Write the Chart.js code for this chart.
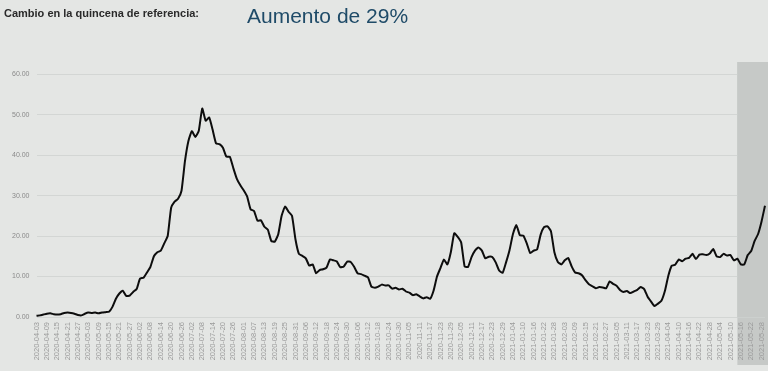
<!DOCTYPE html>
<html><head><meta charset="utf-8">
<script src="https://cdn.jsdelivr.net/npm/chart.js@4.4.0/dist/chart.umd.min.js"></script>
<style>
html,body{margin:0;padding:0;background:#e4e6e4;overflow:hidden}
#wrap{position:relative;width:768px;height:371px}
canvas{position:absolute;left:0;top:0}
.t{position:absolute;white-space:nowrap;font-family:"Liberation Sans",Arial,sans-serif}
#t1{left:4px;top:8px;font-size:11px;line-height:11px;font-weight:bold;color:#2a2a2a}
#t2{left:247px;top:5px;font-size:21px;line-height:21px;color:#1f4b68}
</style></head>
<body>
<div id="wrap">
<canvas id="c" width="768" height="371"></canvas>
<div class="t" id="t1">Cambio en la quincena de referencia:</div>
<div class="t" id="t2">Aumento de 29%</div>
</div>
<script>
// Daily series sampled every 2 days starting 2020-04-03
const startDate = '2020-04-03';
const stepDays = 2;
const tickEvery = 3; // one tick label every 6 days
const refStart = '2021-05-14';
const yTicks = [0, 10, 20, 30, 40, 50, 60];
const values = [
0.3,0.4,0.6,0.8,0.9,0.7,0.6,0.7,1.0,1.1,
1.0,0.8,0.5,0.4,0.8,1.1,1.0,1.1,0.9,1.1,
1.2,1.3,2.5,4.5,5.8,6.5,5.2,5.3,6.2,6.9,
9.5,9.7,11.0,12.4,15.0,16.0,16.4,18.2,20.0,27.0,
28.5,29.2,31.2,38.5,43.5,45.9,44.5,46.0,51.5,48.5,
49.3,46.3,42.9,42.7,41.8,39.6,39.6,36.8,34.2,32.6,
31.3,29.8,26.6,26.2,23.8,23.9,22.3,21.6,18.8,18.6,
20.4,25.0,27.3,26.0,25.0,19.2,15.6,15.1,14.5,12.7,
13.0,10.8,11.6,11.8,12.2,14.2,14.0,13.7,12.3,12.5,
13.7,13.6,12.4,10.8,10.6,10.2,9.8,7.5,7.2,7.5,
8.0,7.8,7.8,7.0,7.2,6.8,7.0,6.3,6.0,5.4,
5.6,5.1,4.6,4.9,4.5,6.5,10.0,12.1,14.2,13.0,
16.0,20.7,19.8,18.4,12.5,12.4,14.8,16.4,17.2,16.4,
14.5,14.9,14.8,13.5,11.5,10.9,13.5,16.5,20.5,22.7,
20.2,20.1,18.2,15.8,16.4,16.7,20.3,22.2,22.4,21.2,
16.0,13.6,13.0,14.0,14.6,12.5,11.0,10.8,10.3,9.1,
8.1,7.6,7.1,7.4,7.3,7.1,8.8,8.2,7.7,6.7,
6.2,6.4,5.9,6.3,6.7,7.4,6.9,5.0,3.8,2.7,
3.3,4.0,6.4,10.2,12.7,12.9,14.2,13.8,14.4,14.6,
15.6,14.3,15.4,15.5,15.3,15.7,16.8,15.0,14.8,15.6,
15.2,15.3,14.0,14.4,13.0,13.0,15.3,16.3,18.8,20.5,
23.6,27.5
];

function fmt(d){return d.toISOString().slice(0,10);}
const labels = [];
{
  const d0 = new Date(startDate + 'T00:00:00Z');
  for (let i = 0; i < values.length; i++) {
    const d = new Date(d0.getTime() + i * stepDays * 86400000);
    labels.push(fmt(d));
  }
}

const shadeColor = '#c6c9c7';
const shadePlugin = {
  id: 'shade',
  beforeDraw(chart) {
    const {ctx, scales:{x}} = chart;
    const xs = x.getPixelForValue(labels.indexOf(refStart));
    ctx.save();
    ctx.fillStyle = shadeColor;
    ctx.fillRect(xs, chart.chartArea.top, chart.width - xs, 365 - chart.chartArea.top);
    ctx.restore();
  },
  beforeDatasetsDraw(chart) {
    const {ctx, scales:{x}, chartArea} = chart;
    const xs = x.getPixelForValue(labels.indexOf(refStart));
    ctx.save();
    ctx.fillStyle = shadeColor;
    ctx.fillRect(xs, chartArea.top, chart.width - xs, chartArea.bottom - chartArea.top + 0.5);
    ctx.restore();
  }
};

new Chart(document.getElementById('c'), {
  type: 'line',
  data: {
    labels: labels,
    datasets: [{
      data: values,
      borderColor: '#0d0d0d',
      borderWidth: 2,
      pointRadius: 0,
      tension: 0.15,
      fill: false
    }]
  },
  options: {
    responsive: false,
    animation: false,
    layout: { padding: { left: 0, right: 3, top: 62, bottom: 0 } },
    plugins: { legend: { display: false }, tooltip: { enabled: false } },
    scales: {
      x: {
        offset: false,
        grid: { display: false, drawTicks: false },
        border: { display: false },
        afterFit(s) { s.height = 54; s.paddingLeft = 0; s.paddingRight = 0; },
        ticks: {
          autoSkip: false,
          minRotation: 90,
          maxRotation: 90,
          padding: 5,
          color: '#9a9a9a',
          font: { family: '"Liberation Sans", Arial, sans-serif', size: 7.5 },
          callback(v, i) { return i % tickEvery === 0 ? labels[i] : null; }
        }
      },
      y: {
        min: 0,
        max: 63,
        afterBuildTicks(s) { s.ticks = yTicks.map(v => ({ value: v })); },
        afterFit(s) { s.width = 36.5; s.paddingTop = 0; s.paddingBottom = 0; },
        grid: { color: '#d3d6d4', lineWidth: 1, drawTicks: false },
        border: { display: false },
        ticks: {
          padding: 7,
          color: '#8a8a8a',
          font: { family: '"Liberation Sans", Arial, sans-serif', size: 7 },
          callback(v) { return Number(v).toFixed(2); }
        }
      }
    }
  },
  plugins: [shadePlugin]
});
</script>
</body></html>
